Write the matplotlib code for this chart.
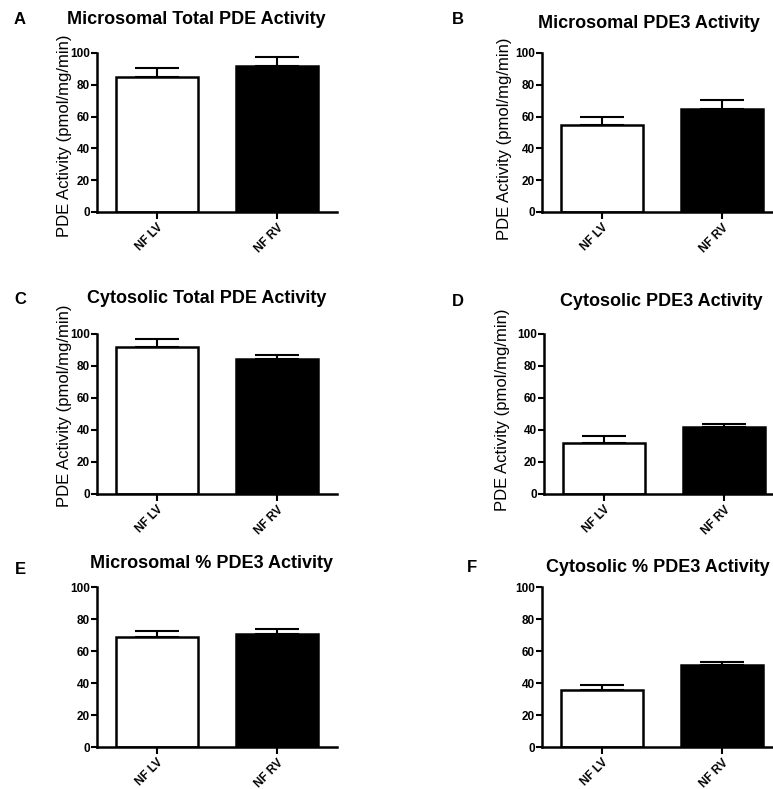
import matplotlib
matplotlib.use("Agg")
import matplotlib.pyplot as plt

plt.rcParams['font.family'] = ['Liberation Sans', 'DejaVu Sans']

# data
groups = ["NF LV", "NF RV"]
titles = ["Microsomal Total PDE Activity", "Microsomal PDE3 Activity",
          "Cytosolic Total PDE Activity", "Cytosolic PDE3 Activity",
          "Microsomal % PDE3 Activity", "Cytosolic % PDE3 Activity"]
letters = ["A", "B", "C", "D", "E", "F"]
means = [[85.0, 91.6], [54.5, 64.7], [91.7, 84.2],
         [31.6, 42.0], [69.0, 70.6], [35.8, 51.0]]
sems = [[5.6, 5.7], [5.2, 5.9], [5.0, 2.7],
        [4.4, 2.0], [3.7, 3.4], [3.0, 2.3]]
has_ylabel = [True, True, True, True, False, False]
ylabel = "PDE Activity (pmol/mg/min)"

W, H = 773, 789

# axes boxes in pixels: left, top(y=100), right, bottom(y=0)
boxes = [(97, 53, 337, 212), (542, 53, 782, 212),
         (97, 334, 337, 494), (544, 334, 784, 494),
         (97, 587, 337, 747), (542, 587, 782, 747)]
# title centre x/y, panel letter x/y, y label centre x/y (pixels)
title_pos = [(196, 20), (649, 23), (207, 298), (661, 301), (212, 563), (658, 568)]
letter_pos = [(20, 19), (458, 19), (20, 299), (458, 302), (20, 569), (472, 568)]
ylabel_pos = [(64, 136), (504, 139), (64, 406), (503, 410)]

fig = plt.figure(figsize=(W / 100, H / 100), dpi=100)

for i in range(6):
    l, t, r, b = boxes[i]
    ax = fig.add_axes([l / W, 1 - b / H, (r - l) / W, (b - t) / H])
    x = [0, 1]
    ax.bar(x, means[i], width=0.68, color=["white", "black"],
           edgecolor="black", linewidth=1.8, zorder=2)
    ax.errorbar(x, means[i], yerr=[[0, 0], sems[i]], fmt="none",
                ecolor="black", elinewidth=1.5, capsize=16, capthick=1.5,
                zorder=1)
    ax.set_xlim(-0.5, 1.5)
    ax.set_ylim(0, 100)
    ax.set_yticks([0, 20, 40, 60, 80, 100])
    ax.set_xticks(x)
    ax.set_xticklabels(groups, rotation=45, ha="right", va="top",
                       rotation_mode="anchor", fontsize=8.5, fontweight="bold")
    for lab in ax.get_yticklabels():
        lab.set_fontsize(8.5)
        lab.set_fontweight("bold")
    for s in ["top", "right"]:
        ax.spines[s].set_visible(False)
    for s in ["left", "bottom"]:
        ax.spines[s].set_linewidth(1.8)
    ax.tick_params(axis="both", direction="out", width=1.5, length=4, pad=1)
    ax.tick_params(axis="x", length=5, pad=2)

    tx, ty = title_pos[i]
    fig.text(tx / W, 1 - ty / H, titles[i], ha="center", va="center",
             fontsize=13, fontweight="bold")
    lx, ly = letter_pos[i]
    fig.text(lx / W, 1 - ly / H, letters[i], ha="center", va="center",
             fontsize=12, fontweight="bold")
    if has_ylabel[i]:
        yx, yy = ylabel_pos[i]
        fig.text(yx / W, 1 - yy / H, ylabel,
                 rotation=90, ha="center", va="center", fontsize=12)

fig.savefig("out.png", dpi=100)
